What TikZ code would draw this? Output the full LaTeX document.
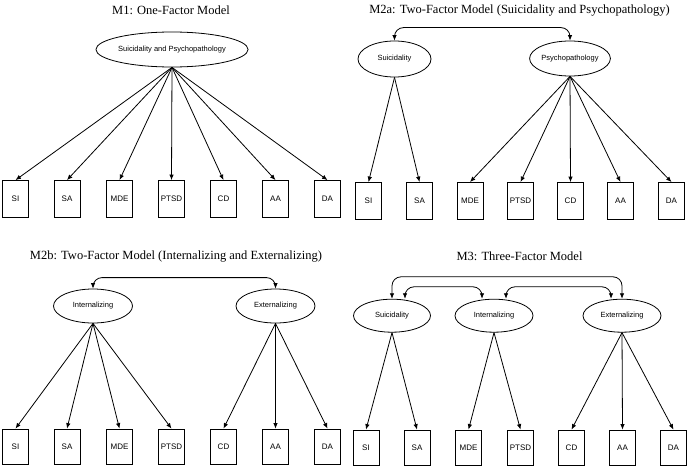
\documentclass[tikz,border=0pt]{standalone}
\usepackage{fontspec}
\setmainfont{Liberation Serif}
\setsansfont{Liberation Sans}
\usetikzlibrary{arrows.meta, shapes.geometric}

\begin{document}
\begin{tikzpicture}[
    x=1pt, y=-1pt,
    factor/.style={ellipse, draw=black, fill=white, line width=0.8pt, inner sep=0pt, font=\sffamily\fontsize{7.5}{9}\selectfont},
    ind/.style={rectangle, draw=black, fill=white, line width=0.8pt, minimum width=26pt, minimum height=37pt, inner sep=0pt, font=\sffamily\fontsize{8}{9}\selectfont},
    paneltitle/.style={font=\fontsize{12.5}{15}\selectfont},
    arr/.style={-{Latex[length=5.5pt,width=4.5pt]}, line width=0.8pt},
    cov/.style={{Latex[length=5.5pt,width=4.5pt]}-{Latex[length=5.5pt,width=4.5pt]}, line width=0.8pt, rounded corners=9pt}
]
    \useasboundingbox (0,0) rectangle (692,468);

    % M1: one factor
    \begin{scope}
        \node[paneltitle] (t1) at (171,10) {M1: One-Factor Model};

        % Factor
        \node[factor, minimum width=131pt, minimum height=35pt] (sp1) at (172,49.5) {Suicidality and Psychopathology};

        % Indicators
        \node[ind] (si1) at (15.5,199) {SI};
        \node[ind] (sa1) at (67,199) {SA};
        \node[ind] (mde1) at (119.5,199) {MDE};
        \node[ind] (ptsd1) at (171.5,199) {PTSD};
        \node[ind] (cd1) at (223.5,199) {CD};
        \node[ind] (aa1) at (275.5,199) {AA};
        \node[ind] (da1) at (327.5,199) {DA};

        % Loadings
        \draw[arr] (sp1.south) -- (si1.north);
        \draw[arr] (sp1.south) -- (sa1.north);
        \draw[arr] (sp1.south) -- (mde1.north);
        \draw[arr] (sp1.south) -- (ptsd1.north);
        \draw[arr] (sp1.south) -- (cd1.north);
        \draw[arr] (sp1.south) -- (aa1.north);
        \draw[arr] (sp1.south) -- (da1.north);
    \end{scope}

    % M2a: suicidality and psychopathology
    \begin{scope}
        \node[paneltitle] (t2) at (519.5,10.5) {M2a: Two-Factor Model (Suicidality and Psychopathology)};

        % Factors
        \node[factor, minimum width=73pt, minimum height=36pt] (sui2) at (394.5,59) {Suicidality};
        \node[factor, minimum width=76pt, minimum height=35pt] (psy2) at (570,58.5) {Psychopathology};

        % Indicators
        \node[ind] (si2) at (368.5,201) {SI};
        \node[ind] (sa2) at (419.5,201) {SA};
        \node[ind] (mde2) at (470,201) {MDE};
        \node[ind] (ptsd2) at (520.5,201) {PTSD};
        \node[ind] (cd2) at (570.5,201) {CD};
        \node[ind] (aa2) at (620.5,201) {AA};
        \node[ind] (da2) at (671.5,201) {DA};

        % Covariance
        \draw[cov] (sui2.north) -- ++(0,-13) -| (psy2.north);

        % Loadings
        \draw[arr] (sui2.south) -- (si2.north);
        \draw[arr] (sui2.south) -- (sa2.north);
        \draw[arr] (psy2.south) -- (mde2.north);
        \draw[arr] (psy2.south) -- (ptsd2.north);
        \draw[arr] (psy2.south) -- (cd2.north);
        \draw[arr] (psy2.south) -- (aa2.north);
        \draw[arr] (psy2.south) -- (da2.north);
    \end{scope}

    % M2b: internalizing and externalizing
    \begin{scope}[ind/.append style={minimum height=35pt}]
        \node[paneltitle] (t3) at (176,256.5) {M2b: Two-Factor Model (Internalizing and Externalizing)};

        % Factors
        \node[factor, minimum width=79pt, minimum height=34pt] (int3) at (93,306) {Internalizing};
        \node[factor, minimum width=79pt, minimum height=34pt] (ext3) at (275.5,306) {Externalizing};

        % Indicators
        \node[ind] (si3) at (15.5,446.5) {SI};
        \node[ind] (sa3) at (67,446.5) {SA};
        \node[ind] (mde3) at (119.5,446.5) {MDE};
        \node[ind] (ptsd3) at (171.5,446.5) {PTSD};
        \node[ind] (cd3) at (223.5,446.5) {CD};
        \node[ind] (aa3) at (275.5,446.5) {AA};
        \node[ind] (da3) at (327.5,446.5) {DA};

        % Covariance
        \draw[cov] (int3.north) -- ++(0,-11) -| (ext3.north);

        % Loadings
        \draw[arr] (int3.south) -- (si3.north);
        \draw[arr] (int3.south) -- (sa3.north);
        \draw[arr] (int3.south) -- (mde3.north);
        \draw[arr] (int3.south) -- (ptsd3.north);
        \draw[arr] (ext3.south) -- (cd3.north);
        \draw[arr] (ext3.south) -- (aa3.north);
        \draw[arr] (ext3.south) -- (da3.north);
    \end{scope}

    % M3: three factors
    \begin{scope}[ind/.append style={minimum height=35pt}]
        \node[paneltitle] (t4) at (519.5,256.5) {M3: Three-Factor Model};

        % Factors
        \node[factor, minimum width=77pt, minimum height=33pt] (sui4) at (392,315.7) {Suicidality};
        \node[factor, minimum width=78pt, minimum height=33pt] (int4) at (494,315.7) {Internalizing};
        \node[factor, minimum width=78pt, minimum height=33pt] (ext4) at (622,315.7) {Externalizing};

        % Indicators
        \node[ind] (si4) at (366,447.5) {SI};
        \node[ind] (sa4) at (417,447.5) {SA};
        \node[ind] (mde4) at (468.5,447.5) {MDE};
        \node[ind] (ptsd4) at (520.5,447.5) {PTSD};
        \node[ind] (cd4) at (571.5,447.5) {CD};
        \node[ind] (aa4) at (622.5,447.5) {AA};
        \node[ind] (da4) at (673.5,447.5) {DA};

        % Covariances
        \draw[cov] (sui4.north) -- ++(0,-22) -| (ext4.north);
        \draw[cov] ([xshift=13pt]sui4.north) -- ++(0,-12) -| ([xshift=-12pt]int4.north);
        \draw[cov] ([xshift=12pt]int4.north) -- ++(0,-12) -| ([xshift=-11pt]ext4.north);

        % Loadings
        \draw[arr] (sui4.south) -- (si4.north);
        \draw[arr] (sui4.south) -- (sa4.north);
        \draw[arr] (int4.south) -- (mde4.north);
        \draw[arr] (int4.south) -- (ptsd4.north);
        \draw[arr] (ext4.south) -- (cd4.north);
        \draw[arr] (ext4.south) -- (aa4.north);
        \draw[arr] (ext4.south) -- (da4.north);
    \end{scope}
\end{tikzpicture}
\end{document}
